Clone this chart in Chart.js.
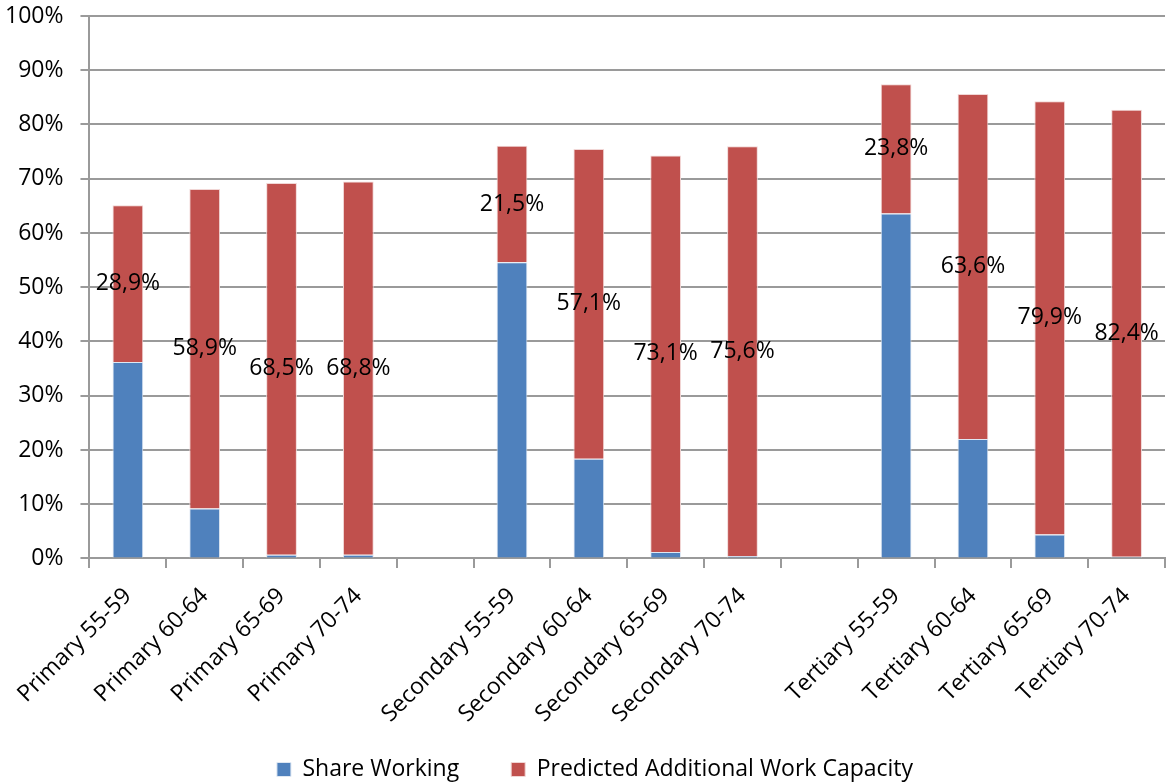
<!DOCTYPE html>
<html>
<head>
<meta charset="utf-8">
<script src="https://cdn.jsdelivr.net/npm/chart.js@4/dist/chart.umd.min.js"></script>
<style>
  html, body { margin: 0; padding: 0; background: #fff; }
  #wrap { width: 1169px; height: 783px; position: relative; }
</style>
</head>
<body>
<div id="wrap"><canvas id="chart"></canvas></div>
<script>
// categories (empty strings are the gaps between education groups)
const categories = [
  "Primary 55-59", "Primary 60-64", "Primary 65-69", "Primary 70-74", "",
  "Secondary 55-59", "Secondary 60-64", "Secondary 65-69", "Secondary 70-74", "",
  "Tertiary 55-59", "Tertiary 60-64", "Tertiary 65-69", "Tertiary 70-74"
];

// share working (%)
const shareWorking = [36.2, 9.2, 0.7, 0.7, null, 54.6, 18.4, 1.2, 0.4, null, 63.6, 22.0, 4.4, 0.3];

// predicted additional work capacity (%), from the data labels
const additionalCapacity = [28.9, 58.9, 68.5, 68.8, null, 21.5, 57.1, 73.1, 75.6, null, 23.8, 63.6, 79.9, 82.4];

const yTicks = [0, 10, 20, 30, 40, 50, 60, 70, 80, 90, 100];

const fontFamily = "'Open Sans', 'Noto Sans', sans-serif";
const gridGray = "#9a9a9a";

// value labels in the middle of the red segments + small legend nudge
const segmentLabels = {
  id: "segmentLabels",
  afterLayout(chart) {
    const lg = chart.legend;
    lg.top -= 22;
    lg.left += 10;
    lg.right += 10;
  },
  afterDatasetsDraw(chart) {
    const ctx = chart.ctx;
    const meta = chart.getDatasetMeta(1);
    ctx.save();
    ctx.fillStyle = "#000";
    ctx.font = "23px " + fontFamily;
    ctx.textAlign = "center";
    ctx.textBaseline = "middle";
    meta.data.forEach((bar, i) => {
      const v = additionalCapacity[i];
      if (v == null) return;
      const y = (bar.y + bar.base) / 2;
      ctx.fillText(v.toFixed(1).replace(".", ",") + "%", bar.x, y);
    });
    ctx.restore();
  }
};

new Chart(document.getElementById("chart"), {
  type: "bar",
  data: {
    labels: categories,
    datasets: [
      {
        label: "Share Working",
        data: shareWorking,
        backgroundColor: "#4f81bd",
        borderColor: "#dfe8f3",
        borderWidth: 1,
        barPercentage: 0.4,
        categoryPercentage: 1.0,
      },
      {
        label: "Predicted Additional Work Capacity",
        data: additionalCapacity,
        backgroundColor: "#c0504d",
        borderColor: "#f1d6d5",
        borderWidth: 1,
        barPercentage: 0.4,
        categoryPercentage: 1.0,
      },
    ],
  },
  options: {
    responsive: true,
    maintainAspectRatio: false,
    animation: false,
    layout: { padding: { top: 16, right: 4, left: 5, bottom: -8 } },
    scales: {
      x: {
        stacked: true,
        grid: {
          offset: true,
          drawOnChartArea: false,
          color: gridGray,
          lineWidth: 2,
          tickLength: 24,
          tickBorderDash: [9, 60],
        },
        border: { color: gridGray, width: 2 },
        ticks: {
          color: "#000",
          font: { family: fontFamily, size: 23 },
          maxRotation: 45,
          minRotation: 45,
          autoSkip: false,
          padding: 0,
        },
      },
      y: {
        stacked: true,
        min: 0,
        max: 100,
        afterBuildTicks: (axis) => {
          axis.ticks = yTicks.map((v) => ({ value: v }));
        },
        grid: {
          color: gridGray,
          lineWidth: 2,
          tickLength: 26,
          tickBorderDash: [0, 17, 9, 60],
        },
        border: { color: gridGray, width: 2 },
        ticks: {
          color: "#000",
          font: { family: fontFamily, size: 23 },
          padding: 0,
          callback: (v) => v + "%",
        },
      },
    },
    plugins: {
      legend: {
        position: "bottom",
        maxHeight: 63,
        labels: {
          color: "#000",
          font: { family: fontFamily, size: 23 },
          boxWidth: 14,
          boxHeight: 14,
          padding: 52,
        },
      },
      tooltip: { enabled: false },
    },
  },
  plugins: [segmentLabels],
});
</script>
</body>
</html>
